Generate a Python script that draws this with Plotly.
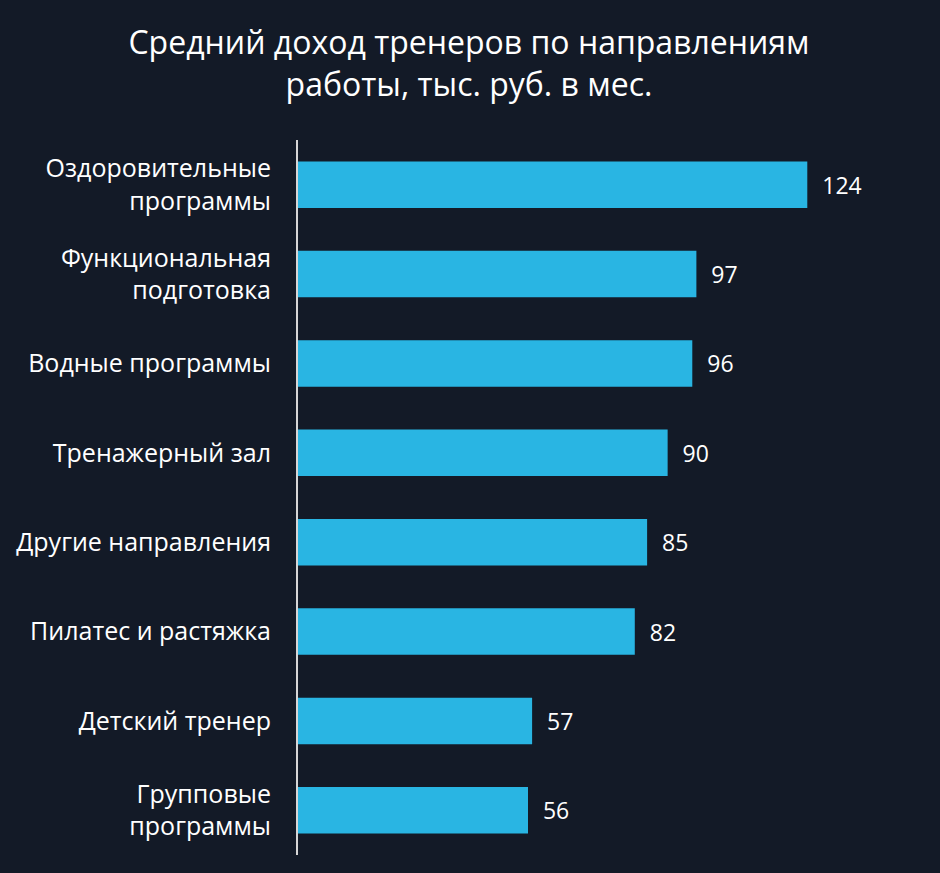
import plotly.graph_objects as go

categories = [
    "Оздоровительные<br>программы",
    "Функциональная<br>подготовка",
    "Водные программы",
    "Тренажерный зал",
    "Другие направления",
    "Пилатес и растяжка",
    "Детский тренер",
    "Групповые<br>программы",
]
values = [124, 97, 96, 90, 85, 82, 57, 56]

title_text = "Средний доход тренеров по направлениям<br>работы, тыс. руб. в мес."

BG = "#131a27"
BAR = "#29b5e3"
FONT = "Open Sans"

fig = go.Figure(
    go.Bar(
        x=values,
        y=categories,
        orientation="h",
        marker=dict(color=BAR, line=dict(width=0)),
        width=0.52,
        text=values,
        texttemplate="  %{text}",
        textposition="outside",
        textfont=dict(family=FONT, size=23, color="#ffffff"),
        cliponaxis=False,
        hoverinfo="skip",
    )
)

fig.update_layout(
    width=940,
    height=873,
    paper_bgcolor=BG,
    plot_bgcolor=BG,
    margin=dict(l=298, r=67, t=140, b=18),
    title=dict(
        text=title_text,
        xref="container",
        x=469 / 940,
        xanchor="center",
        yref="container",
        y=1 - 54 / 873,
        yanchor="middle",
        font=dict(family=FONT, size=32, color="#ffffff"),
    ),
    showlegend=False,
    font=dict(family=FONT, color="#ffffff"),
)

fig.update_xaxes(
    range=[0, 140],
    visible=False,
    showgrid=False,
    zeroline=False,
)
fig.update_yaxes(
    autorange="reversed",
    showgrid=False,
    zeroline=False,
    showline=True,
    linecolor="#d6d6d6",
    linewidth=2,
    ticks="",
    ticklabelstandoff=20,
    tickfont=dict(family=FONT, size=25, color="#ffffff"),
)

fig.write_html("out.html")
